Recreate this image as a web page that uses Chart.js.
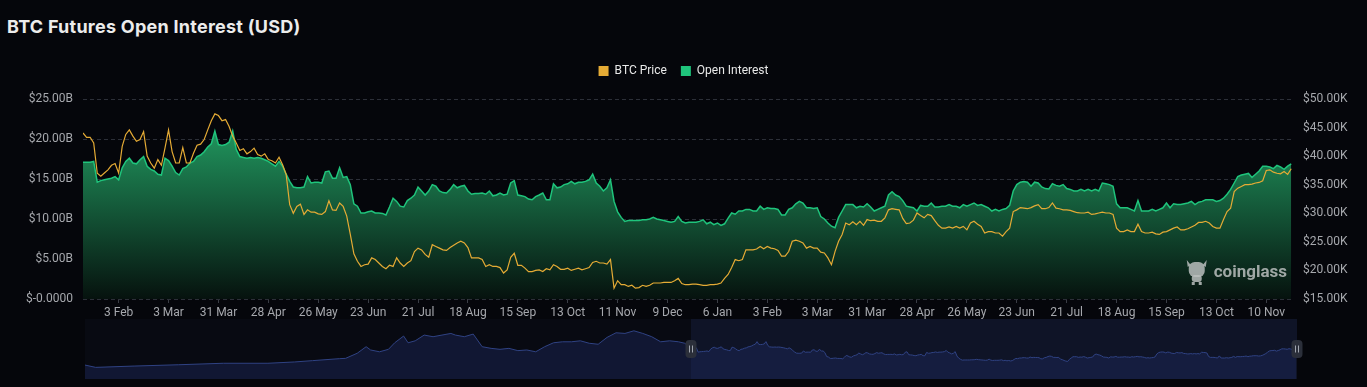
<!DOCTYPE html>
<html>
<head>
<meta charset="utf-8">
<title>BTC Futures Open Interest (USD)</title>
<script src="https://cdn.jsdelivr.net/npm/chart.js@4.4.1/dist/chart.umd.min.js"></script>
<style>
  html, body { margin: 0; padding: 0; background: #05060b; }
  body { width: 1367px; height: 387px; position: relative; overflow: hidden; font-family: Roboto, "Noto Sans", sans-serif; }
  #titulo { position: absolute; left: 7px; top: 17px; font-family: Inter, Roboto, sans-serif; font-size: 18px; line-height: 20px; font-weight: 700; color: #ececec; letter-spacing: 0.25px; }
  #mainBox { position: absolute; left: 0; top: 40px; width: 1367px; height: 285px; }
  #sliderBox { position: absolute; left: 0; top: 315px; width: 1367px; height: 68px; }
</style>
</head>
<body>
<div id="titulo">BTC Futures Open Interest (USD)</div>
<div id="mainBox"><canvas id="chartOI"></canvas></div>
<div id="sliderBox"><canvas id="chartSlider"></canvas></div>
<script>
// ===========================
// DATOS
// ===========================
// dias desde el 14 Jan 2022, un punto cada 2 dias
const dayStep = 2;
const lastDay = 679;

// BTC price (miles de USD)
const priceValues = [
  44.05, 43.3, 43.3, 42.3, 37.0, 36.5, 37.05, 37.6, 38.4, 38.7,
  37.05, 41.7, 43.8, 44.6, 43.5, 42.6, 42.9, 44.3, 40.0, 38.8,
  37.9, 39.4, 38.4, 41.4, 44.6, 40.8, 38.8, 38.8, 41.5, 38.8,
  38.8, 40.5, 41.9, 42.1, 42.9, 44.6, 46.2, 47.4, 47.1, 46.2,
  46.4, 45.2, 43.5, 42.3, 41.0, 41.3, 40.4, 40.8, 41.4, 40.3,
  40.0, 40.4, 39.4, 39.2, 38.8, 39.8, 38.5, 36.8, 31.5, 30.0,
  31.2, 31.6, 29.8, 30.6, 30.2, 30.2, 29.9, 29.8, 30.3, 32.2,
  30.6, 30.5, 31.8, 31.2, 29.5, 26.3, 22.9, 21.6, 20.7, 21.0,
  21.1, 22.2, 21.9, 21.3, 20.7, 20.3, 20.9, 20.7, 22.2, 21.3,
  20.7, 21.3, 21.7, 23.3, 23.9, 23.6, 22.8, 22.3, 24.5, 24.2,
  23.9, 23.6, 23.5, 24.0, 24.4, 24.8, 25.1, 24.8, 24.0, 22.2,
  22.2, 22.2, 21.9, 20.7, 21.0, 20.7, 20.7, 20.5, 19.55, 20.1,
  22.3, 23.0, 20.9, 20.9, 20.4, 19.8, 19.8, 20.0, 20.1, 19.8,
  20.3, 20.1, 21.0, 20.7, 20.2, 20.2, 20.4, 20.0, 20.2, 20.4,
  20.1, 20.3, 20.5, 21.4, 21.6, 21.3, 21.3, 21.1, 21.9, 16.9,
  18.2, 17.5, 17.5, 17.2, 17.4, 16.9, 17.0, 17.4, 17.2, 17.4,
  17.8, 17.8, 17.8, 17.9, 17.9, 17.9, 18.2, 18.6, 17.7, 17.5,
  17.5, 17.6, 17.6, 17.5, 17.4, 17.4, 17.5, 17.5, 17.6, 17.8,
  18.6, 19.3, 20.5, 21.9, 21.7, 21.9, 23.6, 23.6, 23.6, 23.75,
  24.2, 23.8, 24.2, 23.9, 23.8, 23.5, 22.5, 22.5, 23.3, 25.1,
  25.3, 25.1, 24.8, 23.9, 24.2, 23.9, 23.9, 23.2, 23.05, 22.2,
  21.0, 23.3, 25.1, 26.3, 28.3, 28.0, 28.5, 28.0, 28.6, 27.9,
  28.9, 28.7, 28.8, 28.6, 28.6, 29.2, 30.6, 30.8, 30.7, 30.6,
  29.1, 28.2, 28.3, 28.8, 30.05, 29.6, 29.2, 29.8, 29.6, 28.7,
  27.9, 27.4, 27.4, 27.6, 27.4, 27.7, 27.4, 27.7, 27.1, 28.3,
  28.6, 28.1, 27.7, 26.55, 26.8, 26.8, 26.55, 26.55, 26.0, 26.8,
  27.4, 30.3, 30.6, 31.0, 30.9, 30.8, 31.0, 31.3, 31.5, 30.8,
  30.8, 31.0, 31.8, 30.9, 30.8, 30.6, 30.6, 30.5, 30.3, 30.1,
  30.05, 30.05, 30.2, 29.8, 29.9, 30.05, 30.2, 30.05, 30.05, 29.8,
  27.4, 26.8, 26.8, 27.1, 26.8, 26.8, 28.1, 26.8, 26.55, 26.55,
  26.7, 26.4, 26.3, 26.7, 26.8, 27.1, 27.4, 27.6, 27.1, 27.1,
  27.3, 27.6, 27.9, 28.4, 28.4, 28.6, 28.3, 27.7, 27.4, 27.4,
  28.9, 30.3, 30.9, 33.8, 34.4, 34.7, 35.0, 35.0, 35.1, 35.3,
  35.4, 35.7, 37.5, 37.6, 37.2, 37.0, 36.9, 37.3, 36.8, 37.8
];

// Open interest (miles de millones de USD)
const oiValues = [
  17.1, 17.1, 17.1, 17.2, 14.6, 14.8, 14.9, 15.0, 15.1, 15.3,
  14.9, 16.4, 17.2, 17.6, 17.0, 16.9, 17.4, 17.8, 16.6, 16.2,
  16.0, 15.6, 15.5, 17.6, 17.3, 16.6, 15.8, 15.5, 16.3, 16.5,
  17.0, 17.2, 17.8, 18.0, 18.4, 19.0, 19.4, 21.0, 19.3, 19.2,
  19.3, 19.6, 21.0, 18.7, 17.8, 17.7, 17.6, 17.7, 17.6, 17.7,
  17.6, 17.4, 17.2, 16.9, 16.6, 17.2, 16.6, 15.6, 14.7, 14.0,
  13.9, 13.9, 14.0, 15.3, 14.5, 14.6, 14.6, 14.5, 15.9, 16.0,
  15.1, 15.1, 16.4, 15.2, 15.3, 14.3, 11.9, 11.6, 10.75, 10.75,
  10.9, 11.0, 10.75, 10.75, 10.7, 10.5, 11.5, 12.6, 12.2, 11.6,
  11.5, 12.3, 12.6, 13.0, 14.0, 13.5, 13.0, 13.5, 14.3, 14.1,
  13.5, 13.3, 13.25, 13.7, 14.3, 13.9, 14.1, 14.2, 13.5, 13.1,
  13.2, 13.2, 13.25, 13.1, 13.5, 12.9, 13.0, 13.25, 13.0, 13.1,
  14.5, 14.8, 13.0, 12.9, 12.8, 12.5, 12.4, 12.8, 13.0, 13.25,
  12.4, 12.4, 14.4, 13.9, 14.0, 14.3, 14.4, 14.7, 14.4, 14.6,
  14.6, 14.7, 14.9, 15.6, 14.5, 14.1, 13.5, 13.9, 14.9, 12.2,
  10.9, 10.2, 9.7, 9.8, 9.8, 9.8, 9.8, 9.9, 9.9, 10.0,
  10.2, 10.0, 9.9, 9.8, 9.7, 9.6, 9.7, 10.3, 9.7, 9.5,
  9.6, 9.6, 9.6, 9.7, 9.9, 9.4, 9.6, 9.3, 9.5, 9.2,
  9.4, 10.1, 10.75, 10.6, 11.0, 11.0, 11.2, 11.2, 11.0, 11.0,
  11.6, 11.2, 11.4, 11.3, 11.3, 11.2, 10.5, 10.5, 11.2, 11.4,
  11.9, 12.2, 12.0, 11.4, 11.4, 11.3, 11.4, 10.3, 10.0, 9.5,
  9.1, 8.9, 10.2, 11.0, 11.8, 11.8, 11.8, 11.4, 11.6, 11.5,
  11.9, 11.5, 11.0, 11.2, 11.4, 11.6, 13.0, 13.4, 13.0, 12.8,
  12.3, 11.6, 11.5, 11.4, 11.0, 11.7, 11.6, 11.6, 12.0, 11.5,
  11.5, 11.6, 11.6, 11.8, 11.6, 11.6, 11.4, 11.8, 11.6, 11.8,
  12.0, 11.7, 11.8, 11.6, 11.4, 11.0, 11.2, 11.0, 11.2, 11.3,
  11.7, 13.5, 14.3, 14.6, 14.7, 14.6, 14.1, 14.6, 14.5, 14.0,
  13.8, 13.75, 14.4, 14.2, 14.1, 14.3, 13.8, 13.7, 13.5, 13.5,
  13.7, 13.5, 13.7, 13.5, 13.7, 13.5, 14.5, 14.4, 14.3, 14.1,
  11.9, 11.4, 11.4, 11.4, 11.2, 11.0, 12.3, 11.0, 11.0, 11.0,
  11.2, 11.0, 11.2, 11.4, 12.0, 11.4, 11.9, 11.8, 11.8, 11.9,
  12.0, 12.2, 11.8, 12.1, 12.2, 12.4, 12.4, 12.4, 12.2, 12.3,
  12.6, 13.1, 13.7, 14.5, 15.3, 15.5, 15.6, 15.7, 15.2, 15.6,
  16.0, 16.6, 16.6, 16.5, 16.3, 16.7, 16.5, 16.2, 16.6, 16.9
];

// historia anterior del open interest (solo se ve en el slider)
const historyDays = [
  -679, -667, -624, -574, -524, -474, -444, -424, -394, -387,
  -374, -364, -359, -349, -339, -332, -322, -317, -309, -299,
  -289, -279, -269, -264, -254, -244, -234, -224, -214, -204,
  -194, -184, -174, -164, -154, -144, -134, -124, -114, -104,
  -94, -84, -74, -64, -54, -44, -34, -24, -14, -7
];
const historyOI = [
  6.7, 5.3, 6.1, 6.9, 7.8, 7.8, 8.6, 9.4, 10.6, 10.8,
  13.9, 17.9, 15.9, 14.8, 16.3, 20.3, 24.4, 20.3, 21.5, 25.0,
  24.0, 25.0, 26.0, 25.0, 24.0, 25.6, 17.9, 16.9, 16.3, 16.9,
  15.5, 15.9, 14.8, 17.9, 20.3, 20.9, 20.9, 21.5, 20.0, 19.4,
  23.6, 26.4, 26.0, 27.6, 26.0, 24.0, 20.9, 21.5, 20.9, 20.0
];

// etiquetas del eje X: una cada 28 dias
const xTickLabels = [
  "3 Feb", "3 Mar", "31 Mar", "28 Apr", "26 May", "23 Jun", "21 Jul", "18 Aug",
  "15 Sep", "13 Oct", "11 Nov", "9 Dec", "6 Jan", "3 Feb", "3 Mar", "31 Mar",
  "28 Apr", "26 May", "23 Jun", "21 Jul", "18 Aug", "15 Sep", "13 Oct", "10 Nov"
];
const firstTickDay = 20;
const tickStep = 28;

const colores = {
  price: "#e5ab35",
  oi: "#1fc47c",
  grid: "#2c2f38",
  text: "#a6a8ad"
};

Chart.defaults.font.family = 'Roboto, "Noto Sans", sans-serif';
Chart.defaults.font.size = 12;
Chart.defaults.color = colores.text;

const toPoints = (arr) => arr.map((v, i) => ({ x: i * dayStep, y: v }));

// ===========================
// PLUGINS
// ===========================
// mas espacio debajo de la leyenda
const legendSpacer = {
  id: "legendSpacer",
  beforeInit(chart) {
    const fitOrig = chart.legend.fit;
    chart.legend.fit = function () {
      fitOrig.bind(chart.legend)();
      this.height += 12;
    };
  }
};

// marca de agua coinglass
const marcaAgua = {
  id: "marcaAgua",
  afterDatasetsDraw(chart) {
    const { ctx, chartArea } = chart;
    ctx.save();
    ctx.font = 'bold 17px Roboto, sans-serif';
    ctx.fillStyle = "rgba(186,190,189,0.85)";
    ctx.textAlign = "right";
    ctx.textBaseline = "alphabetic";
    const tx = chartArea.right - 6;
    const ty = chartArea.bottom - 22;
    ctx.fillText("coinglass", tx, ty);
    const w = ctx.measureText("coinglass").width;

    // logo (cabeza de toro simplificada)
    const cx = tx - w - 17;
    const top = ty - 17;
    ctx.beginPath();
    ctx.moveTo(cx - 10, top);
    ctx.lineTo(cx - 6, top + 5);
    ctx.lineTo(cx - 9, top + 7);
    ctx.closePath();
    ctx.moveTo(cx + 10, top);
    ctx.lineTo(cx + 6, top + 5);
    ctx.lineTo(cx + 9, top + 7);
    ctx.closePath();
    ctx.fill();
    ctx.beginPath();
    ctx.roundRect(cx - 8, top + 2, 16, 15, 6);
    ctx.fill();
    ctx.beginPath();
    ctx.roundRect(cx - 5, top + 15, 10, 7, 3);
    ctx.fill();
    ctx.fillRect(cx - 5, top + 22, 3, 3);
    ctx.fillRect(cx + 2, top + 22, 3, 3);
    ctx.restore();
  }
};

// ventana seleccionada y tiradores del slider
const ventanaSlider = {
  id: "ventanaSlider",
  beforeDatasetsDraw(chart) {
    const { ctx, chartArea, scales } = chart;
    const x0 = scales.x.getPixelForValue(0);
    const x1 = scales.x.getPixelForValue(lastDay);
    ctx.save();
    ctx.fillStyle = "#080a12";
    ctx.fillRect(chartArea.left, chartArea.top, chartArea.width, chartArea.height);
    ctx.fillStyle = "rgba(42,58,115,0.22)";
    ctx.fillRect(x0, chartArea.top, x1 - x0, chartArea.height);
    ctx.restore();
  },
  afterDatasetsDraw(chart) {
    const { ctx, chartArea, scales } = chart;
    const cy = (chartArea.top + chartArea.bottom) / 2;
    ctx.save();
    [0, lastDay].forEach((d) => {
      const x = scales.x.getPixelForValue(d);
      ctx.fillStyle = "#2b2f3a";
      ctx.beginPath();
      ctx.roundRect(x - 5.5, cy - 9, 11, 18, 4);
      ctx.fill();
      ctx.strokeStyle = "#a0a5ae";
      ctx.lineWidth = 1;
      ctx.beginPath();
      ctx.moveTo(x - 1.5, cy - 3.5);
      ctx.lineTo(x - 1.5, cy + 3.5);
      ctx.moveTo(x + 1.5, cy - 3.5);
      ctx.lineTo(x + 1.5, cy + 3.5);
      ctx.stroke();
    });
    ctx.restore();
  }
};

// ===========================
// GRAFICO PRINCIPAL
// ===========================
function oiGradient(context) {
  const { ctx, chartArea } = context.chart;
  if (!chartArea) return "rgba(0,0,0,0)";
  const g = ctx.createLinearGradient(0, chartArea.top, 0, chartArea.bottom);
  g.addColorStop(0, "#25ad6c");
  g.addColorStop(1, "#06120e");
  return g;
}

new Chart(document.getElementById("chartOI"), {
  type: "line",
  data: {
    datasets: [
      {
        label: "BTC Price",
        data: toPoints(priceValues),
        yAxisID: "yPrice",
        borderColor: colores.price,
        borderWidth: 1.2,
        pointRadius: 0,
        tension: 0,
        fill: false
      },
      {
        label: "Open Interest",
        data: toPoints(oiValues),
        yAxisID: "yOI",
        borderColor: colores.oi,
        backgroundColor: oiGradient,
        borderWidth: 1.5,
        pointRadius: 0,
        tension: 0,
        fill: "origin"
      }
    ]
  },
  options: {
    responsive: true,
    maintainAspectRatio: false,
    animation: false,
    devicePixelRatio: 1,
    layout: { padding: { top: 11, left: 0, right: 0, bottom: 0 } },
    plugins: {
      legend: {
        labels: {
          color: "#e8e8e8",
          boxWidth: 10,
          boxHeight: 10,
          padding: 14,
          generateLabels(chart) {
            return chart.data.datasets.map((ds, i) => ({
              text: ds.label,
              fillStyle: ds.borderColor,
              strokeStyle: ds.borderColor,
              fontColor: "#e8e8e8",
              lineWidth: 0,
              hidden: false,
              datasetIndex: i
            }));
          }
        }
      },
      tooltip: { enabled: false }
    },
    scales: {
      x: {
        type: "linear",
        min: 0,
        max: lastDay,
        afterBuildTicks(scale) {
          scale.ticks = xTickLabels.map((_, i) => ({ value: firstTickDay + i * tickStep }));
        },
        afterFit(scale) { scale.height = 26; },
        ticks: {
          autoSkip: false,
          maxRotation: 0,
          color: colores.text,
          padding: 3,
          callback: (value, index) => xTickLabels[index]
        },
        grid: { drawOnChartArea: false, drawTicks: true, tickLength: 4, color: "#3a3d45" },
        border: { display: false }
      },
      yOI: {
        position: "left",
        min: 0,
        max: 25,
        afterFit(scale) { scale.width = 83; },
        ticks: {
          stepSize: 5,
          padding: 10,
          color: colores.text,
          callback: (v) => (v === 0 ? "$-0.0000" : "$" + v.toFixed(2) + "B")
        },
        grid: { color: colores.grid, drawTicks: false },
        border: { display: false, dash: [4, 3] }
      },
      yPrice: {
        position: "right",
        min: 15,
        max: 50,
        afterFit(scale) { scale.width = 74; },
        ticks: {
          stepSize: 5,
          padding: 10,
          color: colores.text,
          callback: (v) => "$" + v.toFixed(2) + "K"
        },
        grid: { display: false, drawTicks: false },
        border: { display: false }
      }
    }
  },
  plugins: [legendSpacer, marcaAgua]
});

// ===========================
// SLIDER (data zoom)
// ===========================
const sliderPoints = historyDays.map((d, i) => ({ x: d, y: historyOI[i] })).concat(toPoints(oiValues));

new Chart(document.getElementById("chartSlider"), {
  type: "line",
  data: {
    datasets: [{
      data: sliderPoints,
      borderColor: "#2f4283",
      backgroundColor: "rgba(30,44,98,0.42)",
      borderWidth: 1,
      pointRadius: 0,
      tension: 0,
      fill: "start"
    }]
  },
  options: {
    responsive: true,
    maintainAspectRatio: false,
    animation: false,
    devicePixelRatio: 1,
    layout: { padding: { top: 4, bottom: 4, left: 85, right: 70 } },
    plugins: { legend: { display: false }, tooltip: { enabled: false } },
    scales: {
      x: { type: "linear", min: -lastDay, max: lastDay, display: false },
      y: { min: -1.8, max: 34.8, display: false }
    }
  },
  plugins: [ventanaSlider]
});
</script>
</body>
</html>
